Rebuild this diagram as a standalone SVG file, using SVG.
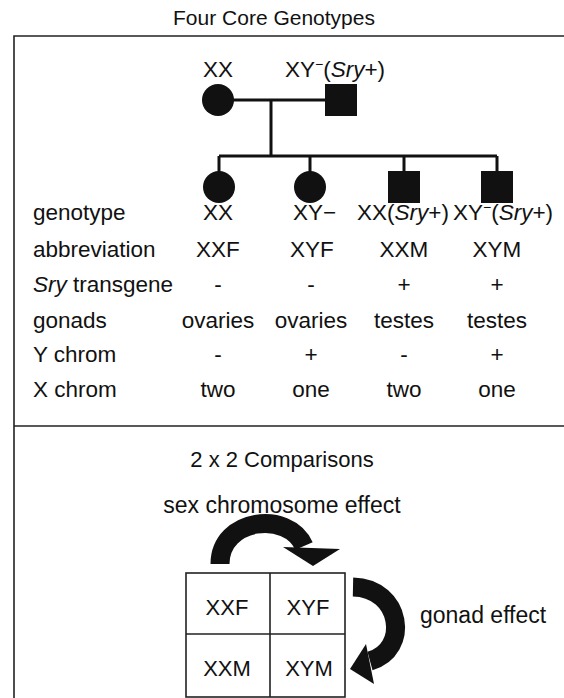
<svg xmlns="http://www.w3.org/2000/svg" width="564" height="698" viewBox="0 0 564 698">
<style>
text{font-family:"Liberation Sans",Arial,sans-serif;font-size:22.5px;fill:#111}
.c{text-anchor:middle}
.ln{stroke:#111;stroke-width:3;fill:none}
.fr{stroke:#222;stroke-width:1.6;fill:none}
.sym{fill:#111}
.arr{stroke:#111;fill:none;stroke-width:19}
</style>
<rect width="564" height="698" fill="#fff"/>
<g id="frame">
<path class="fr" d="M564 36 H14 V698"/>
<path class="fr" d="M14 426 H564"/>
</g>
<text id="title" class="c" x="274" y="25" style="font-size:21px">Four Core Genotypes</text>
<g id="connectors">
<path class="ln" d="M232 100 H326"/>
<path class="ln" d="M271 100 V156"/>
<path class="ln" d="M219 156 H497"/>
<path class="ln" d="M219 156 V172"/>
<path class="ln" d="M310 156 V172"/>
<path class="ln" d="M404 156 V172"/>
<path class="ln" d="M497 156 V172"/>
</g>
<g id="parent-xx">
<circle class="sym" cx="218" cy="100" r="16"/>
<text class="c" x="218" y="77">XX</text>
</g>
<g id="parent-xy">
<rect class="sym" x="325" y="84" width="32" height="32"/>
<text x="285" y="77">XY<tspan font-size="14" dy="-8">−</tspan><tspan dy="8">(</tspan><tspan font-style="italic">Sry</tspan>+)</text>
</g>
<g id="child-xxf"><circle class="sym" cx="219" cy="187" r="16"/></g>
<g id="child-xyf"><circle class="sym" cx="310" cy="187" r="16"/></g>
<g id="child-xxm"><rect class="sym" x="388" y="171" width="32" height="32"/></g>
<g id="child-xym"><rect class="sym" x="481" y="171" width="32" height="32"/></g>
<g id="table">
<text x="33" y="220">genotype</text>
<text x="33" y="257">abbreviation</text>
<text x="33" y="292"><tspan font-style="italic">Sry</tspan> transgene</text>
<text x="33" y="328">gonads</text>
<text x="33" y="362">Y chrom</text>
<text x="33" y="397">X chrom</text>
<text class="c" x="218" y="220">XX</text>
<text x="293" y="220">XY−</text>
<text class="c" x="403" y="220">XX(<tspan font-style="italic">Sry</tspan>+)</text>
<text x="453" y="220">XY<tspan font-size="14" dy="-8">−</tspan><tspan dy="8">(</tspan><tspan font-style="italic">Sry</tspan>+)</text>
<text class="c" x="218" y="257">XXF</text>
<text class="c" x="312" y="257">XYF</text>
<text class="c" x="404" y="257">XXM</text>
<text class="c" x="497" y="257">XYM</text>
<text class="c" x="218" y="292">-</text>
<text class="c" x="311" y="292">-</text>
<text class="c" x="404" y="292">+</text>
<text class="c" x="497" y="292">+</text>
<text class="c" x="218" y="328">ovaries</text>
<text class="c" x="311" y="328">ovaries</text>
<text class="c" x="404" y="328">testes</text>
<text class="c" x="497" y="328">testes</text>
<text class="c" x="218" y="362">-</text>
<text class="c" x="311" y="362">+</text>
<text class="c" x="404" y="362">-</text>
<text class="c" x="497" y="362">+</text>
<text class="c" x="218" y="397">two</text>
<text class="c" x="311" y="397">one</text>
<text class="c" x="404" y="397">two</text>
<text class="c" x="497" y="397">one</text>
</g>
<text id="subtitle" class="c" x="282" y="467" style="font-size:22px">2 x 2 Comparisons</text>
<text id="sex-label" class="c" x="282" y="513" style="font-size:23px">sex chromosome effect</text>
<g id="grid">
<rect class="fr" x="186" y="573" width="159" height="124"/>
<path class="fr" d="M270 573 V697 M186 634 H345"/>
<text class="c" x="227" y="615" style="font-size:22px">XXF</text>
<text class="c" x="308" y="615" style="font-size:22px">XYF</text>
<text class="c" x="227" y="676" style="font-size:22px">XXM</text>
<text class="c" x="309" y="676" style="font-size:22px">XYM</text>
</g>
<g id="arrows">
<path class="arr" d="M220 564 C220 518, 288 510, 304 546"/>
<polygon class="sym" points="283,547 340,549 313,566"/>
<path class="arr" d="M353 587 C402 588, 410 650, 370 661"/>
<polygon class="sym" points="350,669 366,644 374,684"/>
</g>
<text id="gonad-label" x="420" y="623" style="font-size:23px">gonad effect</text>
</svg>
